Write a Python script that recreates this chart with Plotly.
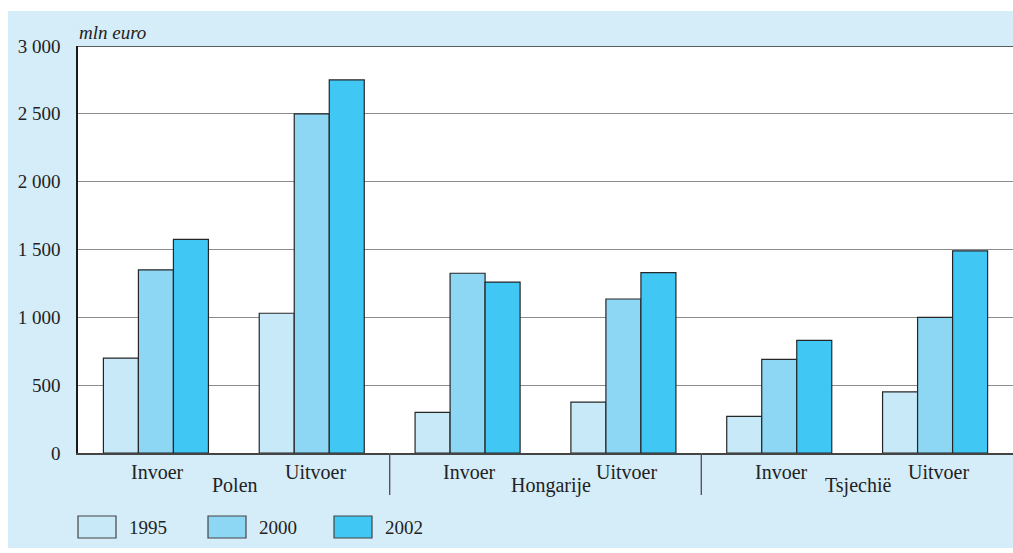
import plotly.graph_objects as go

# Trade values (mln euro) per country, Invoer / Uitvoer
countries = ["Polen", "Hongarije", "Tsjechië"]
flows = ["Invoer", "Uitvoer"]
years = ["1995", "2000", "2002"]
v1995 = [700, 1030, 300, 375, 270, 450]
v2000 = [1350, 2500, 1325, 1135, 690, 1000]
v2002 = [1575, 2750, 1260, 1330, 830, 1490]
y_ticks = [0, 500, 1000, 1500, 2000, 2500, 3000]
y_ticktext = ["0", "500", "1 000", "1 500", "2 000", "2 500", "3 000"]

colors = ["#c8e9f8", "#8dd7f5", "#40c7f4"]
series = [v1995, v2000, v2002]

W, H = 1013, 553
L, R, T, B = 78, 0, 46, 100
pw, ph = W - L - R, H - T - B

def px_x(p):
    return (p - L) / pw

def px_y(p):
    return (H - B - p) / ph

FONT = "'Liberation Serif', 'Times New Roman', 'DejaVu Serif', serif"
TXT = "#222222"

positions = list(range(len(countries) * len(flows)))

fig = go.Figure()
for name, vals, col in zip(years, series, colors):
    fig.add_trace(go.Bar(
        x=positions, y=vals, name=name,
        marker=dict(color=col, line=dict(color="#262626", width=1.2)),
        showlegend=False,
    ))

shapes = [
    # light blue panel and white plot area
    dict(type="rect", xref="paper", yref="paper", layer="below",
         x0=px_x(8), x1=px_x(1030), y0=px_y(548), y1=px_y(11),
         fillcolor="#d5ecf9", line=dict(width=0)),
    dict(type="rect", xref="paper", yref="paper", layer="below",
         x0=0, x1=1, y0=0, y1=1, fillcolor="white", line=dict(width=0)),
    # dark top border at the axis maximum
    dict(type="line", xref="paper", yref="y", x0=0, x1=1, y0=3000, y1=3000,
         line=dict(color="#262626", width=1.6)),
]

annotations = [
    dict(text="<i>mln euro</i>", xref="paper", yref="paper",
         x=px_x(77), y=px_y(32), xanchor="left", yanchor="middle",
         showarrow=False, font=dict(family=FONT, size=19, color=TXT)),
]

# flow labels, country labels and group separators
for gi, country in enumerate(countries):
    for fi, flow in enumerate(flows):
        pos = gi * len(flows) + fi
        annotations.append(dict(
            text=flow, x=pos, xref="x", yref="paper", y=px_y(472),
            xanchor="center", yanchor="middle", xshift=2 + fi * 1.5,
            showarrow=False, font=dict(family=FONT, size=20, color=TXT)))
    centre = gi * len(flows) + (len(flows) - 1) / 2
    annotations.append(dict(
        text=country, x=centre, xref="x", yref="paper", y=px_y(485),
        xanchor="center", yanchor="middle", xshift=5 if gi == 1 else 1,
        showarrow=False, font=dict(family=FONT, size=20, color=TXT)))
    if gi > 0:
        xb = gi * len(flows) - 0.5
        shapes.append(dict(type="line", xref="x", yref="paper",
                           x0=xb, x1=xb, y0=px_y(453), y1=px_y(495),
                           line=dict(color="#555555", width=1.4)))

# legend boxes with year labels
legend_x = [78, 208, 334]
for name, col, lx in zip(years, colors, legend_x):
    shapes.append(dict(type="rect", xref="paper", yref="paper",
                       x0=px_x(lx), x1=px_x(lx + 38), y0=px_y(538), y1=px_y(516),
                       fillcolor=col, line=dict(color="#444444", width=1.2)))
    annotations.append(dict(text=name, xref="paper", yref="paper",
                            x=px_x(lx + 49), y=px_y(527), xanchor="left",
                            yanchor="middle", showarrow=False,
                            font=dict(family=FONT, size=19, color=TXT)))

fig.update_layout(
    width=W, height=H,
    margin=dict(l=L, r=R, t=T, b=B),
    paper_bgcolor="white", plot_bgcolor="white",
    barmode="group", bargap=0.326, bargroupgap=0,
    font=dict(family=FONT, size=19, color=TXT),
    shapes=shapes, annotations=annotations,
    xaxis=dict(range=[-0.5, len(positions) - 0.5], showticklabels=False,
               showgrid=False, zeroline=False, showline=True,
               linecolor="#444444", linewidth=1.5, ticks="", fixedrange=True),
    yaxis=dict(range=[0, 3000], tickvals=y_ticks, ticktext=y_ticktext,
               showgrid=True, gridcolor="#8c8c8c", gridwidth=1,
               zeroline=False, showline=True, linecolor="#1a1a1a",
               linewidth=1.6, ticks="", ticklabelstandoff=12,
               tickfont=dict(family=FONT, size=19, color=TXT)),
)

fig.write_html("out.html")
